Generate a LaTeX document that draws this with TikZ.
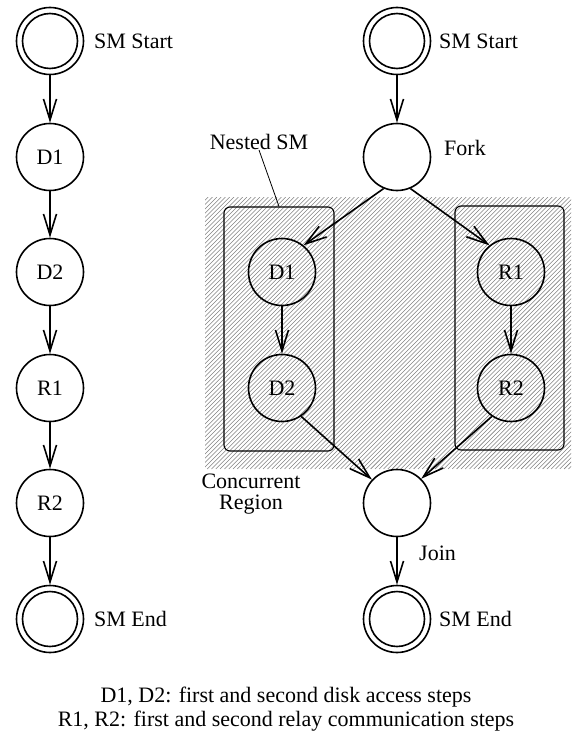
\documentclass[tikz,border=0pt]{standalone}
\usepackage{fontspec}
\setmainfont{Liberation Serif}
\usetikzlibrary{arrows.meta}
\begin{document}
\begin{tikzpicture}[x=1pt,y=-1pt,
  every node/.style={font=\fontsize{22}{26}\selectfont},
  state/.style={circle, draw, line width=1.6pt, minimum size=67pt, inner sep=0pt},
  ring/.style={line width=1.6pt},
  flow/.style={line width=1.6pt, -{Straight Barb[length=21pt,width=13pt]}},
  region/.style={draw, line width=1.1pt, rounded corners=6pt,
                 minimum width=110pt, minimum height=244pt, inner sep=0pt},
  hatch/.style={black!50, line width=0.55pt},
  leader/.style={line width=0.8pt},
  tag/.style={anchor=west, inner sep=0pt}]

\useasboundingbox (0,0) rectangle (572,738);

% hatched concurrent region
\begin{scope}
  \clip (205,197) rectangle (571,469);
  \foreach \i in {0,...,150}
    \draw[hatch] ({-68+\i*4.3},469) -- ++(272,-272);
\end{scope}

% sequential state machine (left)
\node[state] (ls)  at (50,41)  {};
\draw[ring] (ls.center) circle[radius=27.5pt];
\node[state] (ld1) at (50,157) {D1};
\node[state] (ld2) at (50,272) {D2};
\node[state] (lr1) at (50,388) {R1};
\node[state] (lr2) at (50,503) {R2};
\node[state] (le)  at (50,619) {};
\draw[ring] (le.center) circle[radius=27.5pt];

\draw[flow] (ls)  -- (ld1);
\draw[flow] (ld1) -- (ld2);
\draw[flow] (ld2) -- (lr1);
\draw[flow] (lr1) -- (lr2);
\draw[flow] (lr2) -- (le);

\node[tag] (lst) at (94,41)  {SM Start};
\node[tag] (len) at (94,619) {SM End};

% concurrent state machine (right)
\node[region] (lbox) at (279,329)   {};
\node[region, minimum width=109pt] (rbox) at (509.5,328) {};

\node[state] (rs)   at (397,41)  {};
\draw[ring] (rs.center) circle[radius=27.5pt];
\node[state] (fork) at (397,157) {};
\node[state] (nd1)  at (282,272) {D1};
\node[state] (nd2)  at (282,388) {D2};
\node[state] (nr1)  at (511,272) {R1};
\node[state] (nr2)  at (511,388) {R2};
\node[state] (join) at (397,503) {};
\node[state] (re)   at (397,619) {};
\draw[ring] (re.center) circle[radius=27.5pt];

\draw[flow] (rs) -- (fork);
\draw[flow] (fork.247) -- (nd1.51);
\draw[flow] (fork.293) -- (nr1.129);
\draw[flow] (nd1) -- (nd2);
\draw[flow] (nr1) -- (nr2);
\draw[flow] (nd2.304) -- (join.137);
\draw[flow] (nr2.236) -- (join.45);
\draw[flow] (join) -- (re);

\node[tag] (rst)  at (439,41)  {SM Start};
\node[tag] (fl)   at (444,148) {Fork};
\node[tag] (jl)   at (419,553) {Join};
\node[tag] (ren)  at (439,619) {SM End};

\node[inner sep=0pt, anchor=south] (nested) at (259,150) {Nested SM};
\draw[leader] (nested.south) -- (lbox.north);
\node[inner sep=0pt, anchor=base] (conc1) at (251,488) {Concurrent};
\node[inner sep=0pt, anchor=base] (conc2) at (251,509) {Region};

% legend
\node[anchor=base] (cap1) at (286,702) {D1, D2: first and second disk access steps};
\node[anchor=base] (cap2) at (286,726) {R1, R2: first and second relay communication steps};
\end{tikzpicture}
\end{document}
